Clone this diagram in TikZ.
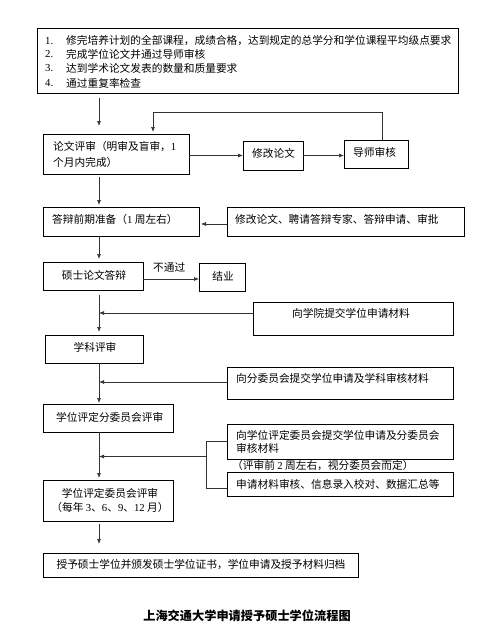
\documentclass[tikz,border=0pt]{standalone}
\usepackage{fontspec}
\setmainfont{Noto Sans CJK SC}
\newfontfamily\lat{Liberation Serif}
\newcommand{\ltn}[1]{{\lat #1}}
\usetikzlibrary{arrows.meta}
\begin{document}
\begin{tikzpicture}[x=1pt,y=-1pt,
  box/.style={draw=black,line width=0.9pt,inner sep=0pt,outer sep=0pt,anchor=north west},
  txt/.style={inner sep=0pt,font=\fontsize{10.7pt}{12.7pt}\selectfont},
  arr/.style={draw=black!80,line width=0.7pt,-{Latex[length=5pt,width=4pt]}},
  ln/.style={draw=black!80,line width=0.7pt}]
\useasboundingbox[fill=white] (0,0) rectangle (494,643);
\coordinate (sp) at (99,0);
% boxes
\node[box,minimum width=421pt,minimum height=65pt] (top) at (37,28) {};
\node[box,minimum width=146pt,minimum height=40pt] (b2) at (43,134) {};
\node[box,minimum width=60pt,minimum height=29pt] (rev) at (243,141) {};
\node[box,minimum width=64pt,minimum height=28pt] (tut) at (344,140) {};
\node[box,minimum width=156pt,minimum height=29pt] (b3) at (43,207) {};
\node[box,minimum width=237pt,minimum height=29pt] (r3) at (227,207) {};
\node[box,minimum width=100pt,minimum height=28pt] (b4) at (43,262) {};
\node[box,minimum width=46pt,minimum height=28pt] (jy) at (199,263) {};
\node[box,minimum width=200pt,minimum height=33pt] (r4) at (253,302) {};
\node[box,minimum width=98pt,minimum height=28pt] (b5) at (45,335) {};
\node[box,minimum width=226pt,minimum height=32pt] (r5) at (227,367) {};
\node[box,minimum width=130pt,minimum height=28pt] (b6) at (43,404) {};
\node[box,minimum width=226pt,minimum height=35pt] (rA) at (227,424) {};
\node[box,minimum width=226pt,minimum height=24pt] (rB) at (227,472) {};
\node[box,minimum width=130pt,minimum height=41pt] (b7) at (43,480) {};
\node[box,minimum width=315pt,minimum height=24pt] (b8) at (43,553) {};
% texts
\node[txt,anchor=west] (n1) at (45,41) {\ltn{1.}};
\node[txt,anchor=west] (n2) at (45,54.5) {\ltn{2.}};
\node[txt,anchor=west] (n3) at (45,68) {\ltn{3.}};
\node[txt,anchor=west] (n4) at (45,83) {\ltn{4.}};
\node[txt,anchor=west] (t1) at (66,41) {修完培养计划的全部课程，成绩合格，达到规定的总学分和学位课程平均级点要求};
\node[txt,anchor=west] (t2) at (66,54.5) {完成学位论文并通过导师审核};
\node[txt,anchor=west] (t3) at (66,68) {达到学术论文发表的数量和质量要求};
\node[txt,anchor=west] (t4) at (66,83) {通过重复率检查};
\node[txt,anchor=west,align=left] (tb2) at (53,154) {论文评审（明审及盲审，\ltn{1}\\[3.3pt]个月内完成）};
\node[txt,anchor=west] (trev) at (252,153) {修改论文};
\node[txt,anchor=west] (ttut) at (353,152) {导师审核};
\node[txt,anchor=west] (tb3) at (52,219) {答辩前期准备（\ltn{1} 周左右）};
\node[txt,anchor=west] (tr3) at (235,219) {修改论文、聘请答辩专家、答辩申请、审批};
\node[txt] (tb4) at (94,275) {硕士论文答辩};
\node[txt,anchor=west] (tno) at (153,267) {不通过};
\node[txt] (tjy) at (223,276) {结业};
\node[txt] (tr4) at (351,313) {向学院提交学位申请材料};
\node[txt] (tb5) at (95,347) {学科评审};
\node[txt,anchor=west] (tr5) at (236,378) {向分委员会提交学位申请及学科审核材料};
\node[txt,anchor=west] (tb6) at (56,417) {学位评定分委员会评审};
\node[txt,anchor=west,align=left] (trA) at (236,442) {向学位评定委员会提交学位申请及分委员会\\审核材料};
\node[txt,anchor=west] (tnote) at (232,465) {（评审前 \ltn{2} 周左右，视分委员会而定）};
\node[txt,anchor=west] (trB) at (236,484) {申请材料审核、信息录入校对、数据汇总等};
\node[txt,align=center] (tb7) at (110,500) {学位评定委员会评审\\[1.3pt]（每年 \ltn{3}、\ltn{6}、\ltn{9}、\ltn{12} 月）};
\node[txt] (tb8) at (201,565) {授予硕士学位并颁发硕士学位证书，学位申请及授予材料归档};
\node[inner sep=0pt,font=\fontsize{12.2pt}{14pt}\selectfont\bfseries] (title) at (247,616) {上海交通大学申请授予硕士学位流程图};
% vertical spine arrows
\draw[arr,shorten <=5pt,shorten >=8pt] (top.south -| sp) -- (b2.north -| sp);
\draw[arr,shorten <=3pt,shorten >=2pt] (b2.south -| sp) -- (b3.north -| sp);
\draw[arr,shorten >=3pt] (b3.south -| sp) -- (b4.north -| sp);
\draw[arr,shorten <=5pt,shorten >=3pt] (b4.south -| sp) -- (b5.north -| sp);
\draw[arr,shorten >=1pt] (b5.south -| sp) -- (b6.north -| sp);
\draw[arr,shorten >=2pt] (b6.south -| sp) -- (b7.north -| sp);
\draw[arr,shorten <=3pt,shorten >=9pt] (b7.south -| sp) -- (b8.north -| sp);
% horizontal arrows
\draw[arr] (b2.east |- rev.west) -- (rev.west);
\draw[arr] (rev.east) -- (tut.west |- rev.east);
\draw[arr,shorten >=2pt] ([xshift=6pt]tut.north) -- ++(0,-28) -| ([xshift=37pt]b2.north);
\draw[arr,shorten >=2pt] ([yshift=-2.5pt]r3.west) -- ([yshift=-2.5pt]r3.west -| b3.east);
\draw[arr] ([yshift=-3pt]b4.east) -- ([yshift=-3pt]b4.east -| jy.west);
\draw[arr] ([yshift=5.5pt]r4.west) -- ([yshift=5.5pt]r4.west -| sp);
\draw[arr] ([yshift=1pt]r5.west) -- ([yshift=1pt]r5.west -| sp);
\draw[ln] (rA.west) -- ++(-21,0) coordinate (bk) |- ([yshift=-4pt]rB.west);
\draw[arr] ([yshift=-15pt]bk) -- ([yshift=-15pt]bk -| sp);
\end{tikzpicture}
\end{document}
